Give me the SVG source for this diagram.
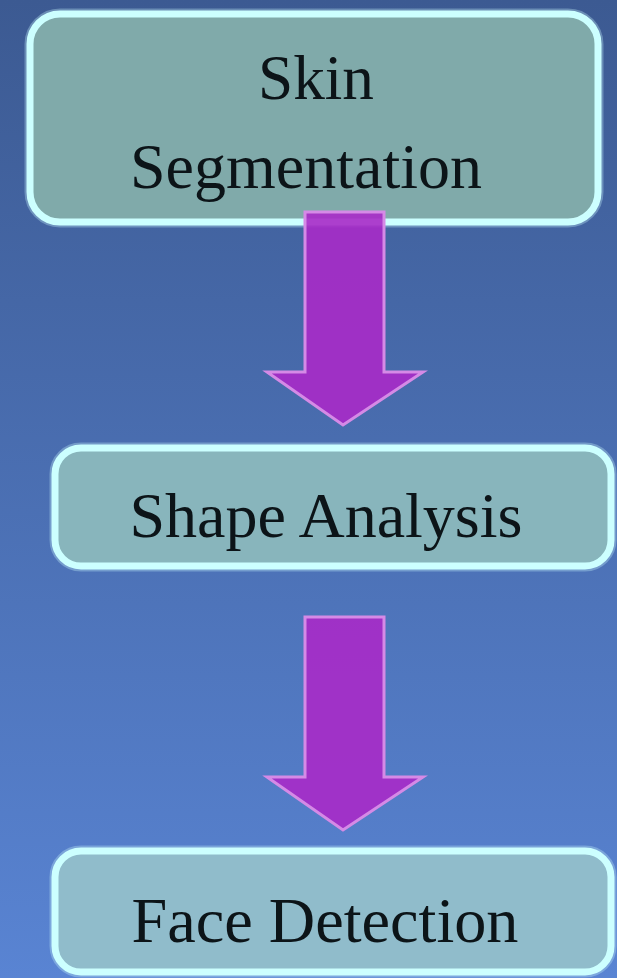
<svg xmlns="http://www.w3.org/2000/svg" width="617" height="978" viewBox="0 0 617 978">
  <defs>
    <linearGradient id="bg" x1="0" y1="0" x2="0" y2="1">
      <stop offset="0" stop-color="#3c5a92"/>
      <stop offset="1" stop-color="#5984d3"/>
    </linearGradient>
    <style>
      .glow { fill: none; stroke: #bfeef5; stroke-width: 11; stroke-opacity: 0.35; }
      .box { stroke: #ccffff; stroke-width: 7; }
      .lbl { font-family: "Liberation Serif", "Times New Roman", serif; font-size: 63px; fill: #0c1418; text-anchor: middle; }
      .arrow { fill: #a82ac8; fill-opacity: 0.9; stroke: #d58ae6; stroke-width: 3; stroke-linejoin: miter; }
    </style>
  </defs>
  <rect x="0" y="0" width="617" height="978" fill="url(#bg)"/>

  <g id="node-skin">
    <rect class="glow" x="30" y="14" width="568" height="208" rx="30"/>
    <rect class="box" x="30" y="14" width="568" height="208" rx="30" fill="#80aaaa"/>
    <text class="lbl" x="316" y="99" textLength="116" lengthAdjust="spacingAndGlyphs">Skin</text>
    <text class="lbl" x="306" y="188" textLength="352" lengthAdjust="spacingAndGlyphs">Segmentation</text>
  </g>

  <g id="node-shape">
    <rect class="glow" x="55" y="448" width="556" height="118" rx="26"/>
    <rect class="box" x="55" y="448" width="556" height="118" rx="26" fill="#88b5bc"/>
    <text class="lbl" x="326" y="537" textLength="393" lengthAdjust="spacingAndGlyphs">Shape Analysis</text>
  </g>

  <g id="node-face">
    <rect class="glow" x="55" y="851" width="556" height="121" rx="26"/>
    <rect class="box" x="55" y="851" width="556" height="121" rx="26" fill="#90bccb"/>
    <text class="lbl" x="325" y="942" textLength="387" lengthAdjust="spacingAndGlyphs">Face Detection</text>
  </g>

  <g id="connectors">
    <polygon class="arrow" points="305,212 384,212 384,372 423,372 343,425 267,372 305,372"/>
    <polygon class="arrow" points="305,617 384,617 384,777 423,777 343,830 267,777 305,777"/>
  </g>
</svg>
